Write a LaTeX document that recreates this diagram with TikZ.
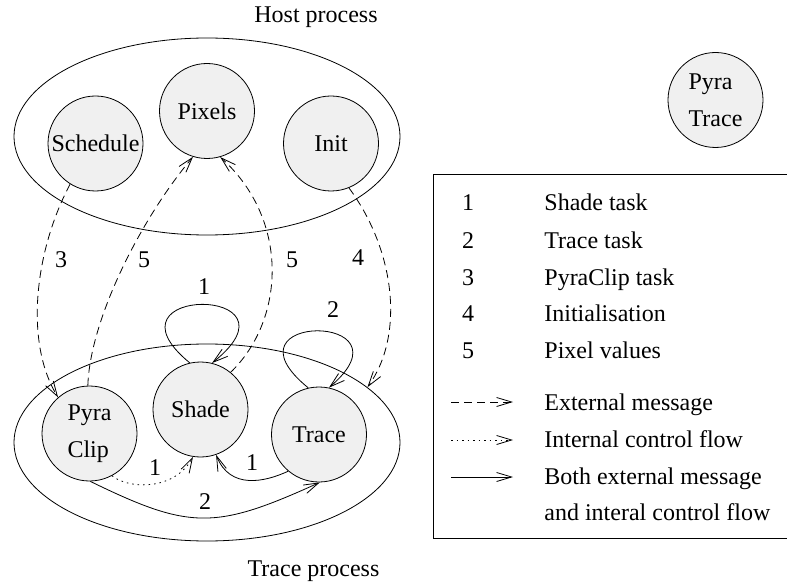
\documentclass[tikz,border=0pt]{standalone}
\usepackage{fontspec}
\setmainfont{Liberation Serif}
\usetikzlibrary{shapes.geometric,arrows.meta}
\definecolor{taskfill}{gray}{0.94}
\begin{document}
\begin{tikzpicture}[x=1pt,y=-1pt,line width=0.8pt,
  font=\fontsize{24}{28}\selectfont,
  task/.style={circle,draw,fill=taskfill,minimum size=95pt,inner sep=0pt},
  twoline/.style={align=left,font=\fontsize{24}{37}\selectfont},
  proc/.style={ellipse,draw,minimum width=386pt,minimum height=197pt,inner sep=0pt},
  tip/.style={-{Straight Barb[length=15pt,width=9pt]}},
  ext/.style={tip,dash pattern=on 8pt off 5pt},
  intl/.style={tip,dash pattern=on 1.5pt off 4pt},
  both/.style={tip},
  lbl/.style={inner sep=0pt},
  legtxt/.style={inner sep=0pt,anchor=base west},
  legnum/.style={inner sep=0pt,anchor=base}]
\useasboundingbox (0,0) rectangle (787,588);

% processes
\node[proc] (hp) at (207,136.5) {};
\node[proc] (tp) at (207,442.5) {};
\node[lbl,anchor=base] (hplabel) at (316,23) {Host process};
\node[lbl,anchor=base] (tplabel) at (313.5,576) {Trace process};

% tasks of the host process
\node[task] (sched) at (95.5,143.5) {Schedule};
\node[task] (pix) at (207,111) {Pixels};
\node[task] (init) at (331,143.5) {Init};

% tasks of the trace process
\node[task,twoline] (pclip) at (89.5,433.5) {Pyra\\Clip};
\node[task] (shade) at (200.5,409.5) {Shade};
\node[task] (trace) at (319,434.5) {Trace};

% stand-alone task
\node[task,twoline] (ptrace) at (715.5,100) {Pyra\\Trace};

% external messages
\draw[ext] (sched.238) .. controls (35,250) and (24,342) .. (pclip.131);
\draw[ext] (pclip.92) .. controls (90,320) and (140,220) .. (pix.253);
\draw[ext] (shade.51) .. controls (285,320) and (290,220) .. (pix.286);
\draw[ext] (init.292) .. controls (395,250) and (405,335) .. (tp.19);
\node[lbl] (l3) at (61,260) {3};
\node[lbl] (l5a) at (144,260) {5};
\node[lbl] (l5b) at (292,260) {5};
\node[lbl] (l4) at (358,258) {4};

% control flow inside the trace process
\draw[both] (shade.103) .. controls (95,285) and (310,285) .. (shade.76);
\draw[both] (trace.103) .. controls (215,312) and (418,312) .. (trace.78);
\draw[intl] (pclip.298) .. controls (130,490) and (175,490) .. (shade.261);
\draw[both] (trace.230) .. controls (265,482) and (230,490) .. (shade.289);
\draw[both] (pclip.271) .. controls (190,530) and (215,530) .. (trace.271);
\node[lbl] (l1loop) at (204,287) {1};
\node[lbl] (l2loop) at (333,310) {2};
\node[lbl] (l1dot) at (155,468) {1};
\node[lbl] (l1sol) at (252,463) {1};
\node[lbl] (l2sol) at (205,502) {2};

% legend (its right side runs past the page edge)
\node[draw,anchor=north west,minimum width=360pt,minimum height=364pt,inner sep=0pt] (legend) at (433,174) {};
\node[legnum] (n1) at (468,211) {1};
\node[legtxt] (t1) at (544,211) {Shade task};
\node[legnum] (n2) at (468,248) {2};
\node[legtxt] (t2) at (544,248) {Trace task};
\node[legnum] (n3) at (468,285) {3};
\node[legtxt] (t3) at (544,285) {PyraClip task};
\node[legnum] (n4) at (468,321) {4};
\node[legtxt] (t4) at (544,321) {Initialisation};
\node[legnum] (n5) at (468,358) {5};
\node[legtxt] (t5) at (544,358) {Pixel values};

\coordinate (e1) at (451,402); \coordinate (e2) at (513,402);
\coordinate (i1) at (451,440); \coordinate (i2) at (513,440);
\coordinate (b1) at (451,477); \coordinate (b2) at (513,477);
\draw[ext] (e1) -- (e2);
\draw[intl] (i1) -- (i2);
\draw[both] (b1) -- (b2);
\node[legtxt] (t6) at (544,410) {External message};
\node[legtxt] (t7) at (544,447) {Internal control flow};
\node[legtxt] (t8) at (544,484) {Both external message};
\node[legtxt] (t9) at (544,520) {and interal control flow};
\end{tikzpicture}
\end{document}
